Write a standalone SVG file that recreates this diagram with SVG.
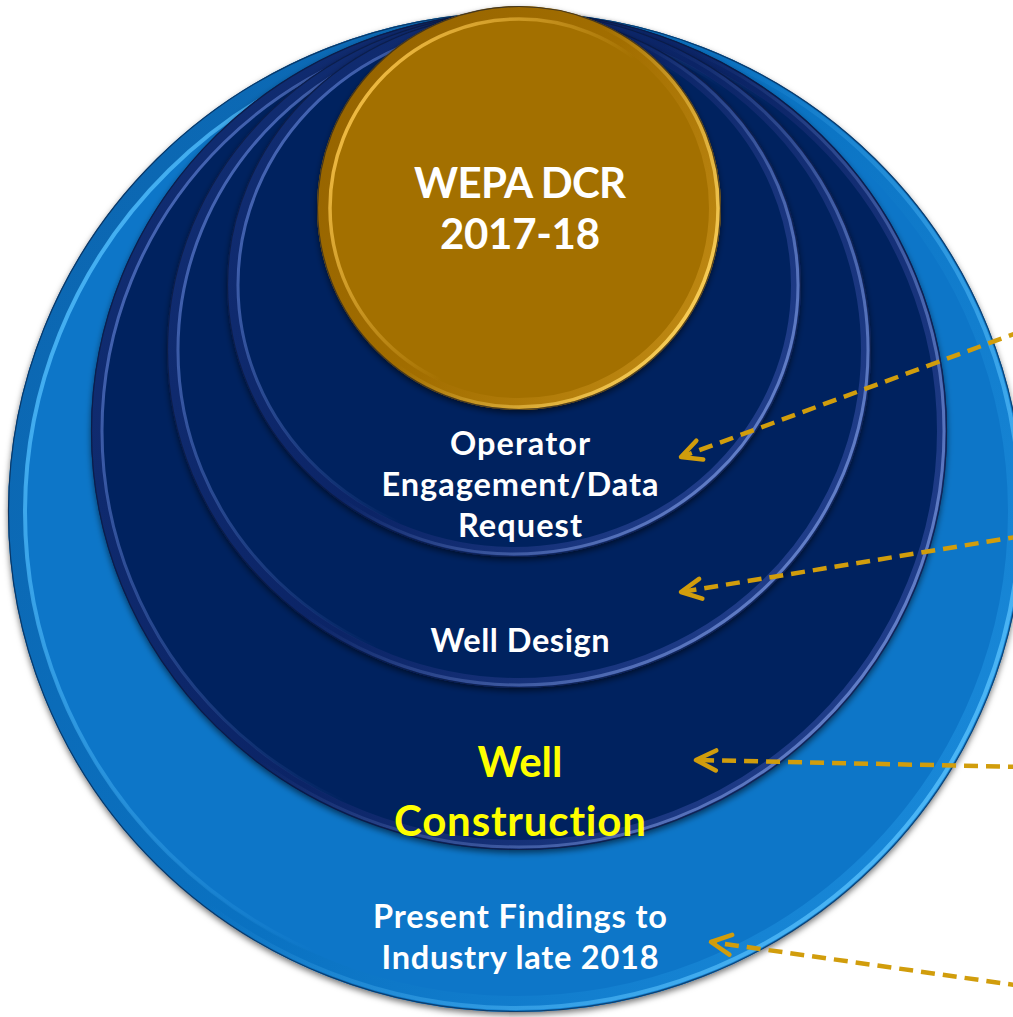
<svg xmlns="http://www.w3.org/2000/svg" width="1013" height="1017" viewBox="0 0 1013 1017">
  <defs>
    <filter id="shade" x="-10%" y="-10%" width="120%" height="120%">
      <feDropShadow dx="0" dy="3" stdDeviation="3" flood-color="#000" flood-opacity="0.55"/>
    </filter>

    <!-- light blue ring -->
    <linearGradient id="lbBand" x1="0" y1="0.2" x2="1" y2="0.8">
      <stop offset="0" stop-color="#0C66B0"/>
      <stop offset="0.5" stop-color="#0A72C2"/>
      <stop offset="1" stop-color="#1A8ADA"/>
    </linearGradient>
    <linearGradient id="lbIn" x1="0" y1="0.2" x2="1" y2="0.8">
      <stop offset="0" stop-color="#4CB8F8" stop-opacity="1"/>
      <stop offset="0.55" stop-color="#4CB8F8" stop-opacity="0"/>
    </linearGradient>
    <linearGradient id="lbOut" x1="0" y1="0.2" x2="1" y2="0.8">
      <stop offset="0.45" stop-color="#52BCFA" stop-opacity="0"/>
      <stop offset="1" stop-color="#52BCFA" stop-opacity="1"/>
    </linearGradient>

    <!-- navy rings -->
    <linearGradient id="nvBand" x1="0" y1="0.2" x2="1" y2="0.8">
      <stop offset="0" stop-color="#112D72"/>
      <stop offset="0.5" stop-color="#0B2466"/>
      <stop offset="1" stop-color="#23418F"/>
    </linearGradient>
    <linearGradient id="nvIn" x1="0" y1="0.2" x2="1" y2="0.8">
      <stop offset="0" stop-color="#5675C8" stop-opacity="0.9"/>
      <stop offset="0.55" stop-color="#5675C8" stop-opacity="0"/>
    </linearGradient>
    <linearGradient id="nvOut" x1="0" y1="0.2" x2="1" y2="0.8">
      <stop offset="0.45" stop-color="#7E9AE2" stop-opacity="0"/>
      <stop offset="1" stop-color="#7E9AE2" stop-opacity="0.8"/>
    </linearGradient>

    <!-- gold disc -->
    <linearGradient id="gdBand" x1="0" y1="0.2" x2="1" y2="0.8">
      <stop offset="0" stop-color="#966400"/>
      <stop offset="0.5" stop-color="#A26E00"/>
      <stop offset="1" stop-color="#C08A14"/>
    </linearGradient>
    <linearGradient id="gdIn" x1="0" y1="0.2" x2="1" y2="0.8">
      <stop offset="0" stop-color="#F8C34A" stop-opacity="1"/>
      <stop offset="0.55" stop-color="#F8C34A" stop-opacity="0"/>
    </linearGradient>
    <linearGradient id="gdOut" x1="0" y1="0.2" x2="1" y2="0.8">
      <stop offset="0.45" stop-color="#FFD55E" stop-opacity="0"/>
      <stop offset="1" stop-color="#FFD55E" stop-opacity="1"/>
    </linearGradient>

    <marker id="chevron" markerUnits="userSpaceOnUse" viewBox="-24 -14 28 28" refX="0" refY="0" markerWidth="28" markerHeight="28" orient="auto">
      <path d="M -20 -10 L 0 0 L -20 10" fill="none" stroke="#D19D0C" stroke-width="4.5" stroke-linecap="round" stroke-linejoin="round"/>
    </marker>

    <style>
      .lbl { font-family: Lato, "Open Sans", "Liberation Sans", sans-serif; font-weight: 700; text-anchor: middle; fill: #FFFFFF; font-variant-ligatures: none; font-feature-settings: "liga" 0, "clig" 0; }
      .body { font-size: 32.5px; }
      .big { font-size: 42px; }
      .hl { fill: #FFFF00; }
      .edge { fill: none; stroke: #0A1632; stroke-opacity: 0.6; stroke-width: 1.2; }
      .lead { fill: none; stroke: #D19D0C; stroke-width: 4.5; stroke-dasharray: 14 8; marker-end: url(#chevron); }
    </style>
  </defs>

  <rect width="1013" height="1017" fill="#FFFFFF"/>

  <!-- outer ring: presenting findings -->
  <g id="node-findings">
    <g filter="url(#shade)">
      <ellipse cx="516" cy="512" rx="508" ry="500" fill="#0876C8"/>
    </g>
    <ellipse cx="516" cy="512" rx="500" ry="492" fill="none" stroke="url(#lbBand)" stroke-width="16"/>
    <ellipse cx="516" cy="512" rx="491" ry="483" fill="none" stroke="url(#lbIn)" stroke-width="4"/>
    <ellipse cx="516" cy="512" rx="504" ry="496" fill="none" stroke="url(#lbOut)" stroke-width="4"/>
    <ellipse class="edge" cx="516" cy="512" rx="507.5" ry="499.5"/>
    <text class="lbl body" x="520" y="928" textLength="294">Present Findings to</text>
    <text class="lbl body" x="520" y="969" textLength="277">Industry late 2018</text>
  </g>

  <!-- third ring: well construction -->
  <g id="node-construction">
    <g filter="url(#shade)">
      <ellipse cx="519" cy="431" rx="428" ry="419" fill="#06215F"/>
    </g>
    <ellipse cx="519" cy="431" rx="423" ry="414" fill="none" stroke="url(#nvBand)" stroke-width="10"/>
    <ellipse cx="519" cy="431" rx="417" ry="408" fill="none" stroke="url(#nvIn)" stroke-width="3"/>
    <ellipse cx="519" cy="431" rx="425" ry="416" fill="none" stroke="url(#nvOut)" stroke-width="3"/>
    <ellipse class="edge" cx="519" cy="431" rx="427.5" ry="418.5"/>
    <text class="lbl big hl" x="520" y="777">Well</text>
    <text class="lbl big hl" x="520" y="836" textLength="252">Construction</text>
  </g>

  <!-- second ring: well design -->
  <g id="node-design">
    <g filter="url(#shade)">
      <ellipse cx="519" cy="350" rx="352" ry="338" fill="#06215F"/>
    </g>
    <ellipse cx="519" cy="350" rx="347" ry="333" fill="none" stroke="url(#nvBand)" stroke-width="10"/>
    <ellipse cx="519" cy="350" rx="341" ry="327" fill="none" stroke="url(#nvIn)" stroke-width="3"/>
    <ellipse cx="519" cy="350" rx="349" ry="335" fill="none" stroke="url(#nvOut)" stroke-width="3"/>
    <ellipse class="edge" cx="519" cy="350" rx="351.5" ry="337.5"/>
    <text class="lbl body" x="520" y="652" textLength="179">Well Design</text>
  </g>

  <!-- first ring: operator engagement -->
  <g id="node-engagement">
    <g filter="url(#shade)">
      <ellipse cx="514" cy="285" rx="287" ry="272" fill="#06215F"/>
    </g>
    <ellipse cx="514" cy="285" rx="282" ry="267" fill="none" stroke="url(#nvBand)" stroke-width="10"/>
    <ellipse cx="514" cy="285" rx="276" ry="261" fill="none" stroke="url(#nvIn)" stroke-width="3"/>
    <ellipse cx="514" cy="285" rx="284" ry="269" fill="none" stroke="url(#nvOut)" stroke-width="3"/>
    <ellipse class="edge" cx="514" cy="285" rx="286.5" ry="271.5"/>
    <text class="lbl body" x="520" y="455" textLength="140">Operator</text>
    <text class="lbl body" x="520" y="496" textLength="277">Engagement/Data</text>
    <text class="lbl body" x="520" y="537" textLength="124">Request</text>
  </g>

  <!-- core disc -->
  <g id="node-wepa">
    <g filter="url(#shade)">
      <ellipse cx="519" cy="208" rx="202" ry="202" fill="#A36F00"/>
    </g>
    <ellipse cx="519" cy="208" rx="196" ry="196" fill="none" stroke="url(#gdBand)" stroke-width="12"/>
    <ellipse cx="519" cy="208" rx="189" ry="189" fill="none" stroke="url(#gdIn)" stroke-width="3.5"/>
    <ellipse cx="519" cy="208" rx="199" ry="199" fill="none" stroke="url(#gdOut)" stroke-width="3.5"/>
    <ellipse class="edge" cx="519" cy="208" rx="201.5" ry="201.5"/>
    <text class="lbl big" x="520" y="198" textLength="212">WEPA DCR</text>
    <text class="lbl big" x="520" y="249" textLength="160">2017-18</text>
  </g>

  <!-- dashed leaders pointing into the rings -->
  <g id="connectors">
    <path class="lead" d="M 1022 331 L 681 457"/>
    <path class="lead" d="M 1022 536 L 681 592"/>
    <path class="lead" d="M 1022 767 L 696 760"/>
    <path class="lead" d="M 1022 986 L 711 942"/>
  </g>
</svg>
